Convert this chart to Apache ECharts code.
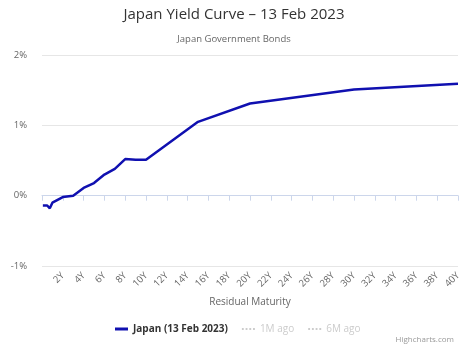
<!DOCTYPE html>
<html>
<head>
<meta charset="utf-8">
<script src="https://cdn.jsdelivr.net/npm/echarts@6/dist/echarts.min.js"></script>
<style>
  html, body { margin: 0; padding: 0; background: #fff; }
  #main { width: 468px; height: 351px; }
</style>
</head>
<body>
<div id="main"></div>
<script>
// residual maturity in years and yield in %
var maturities = [0.083, 0.25, 0.5, 0.75, 1, 2, 3, 4, 5, 6, 7, 8, 9, 10, 15, 20, 30, 40];
var yieldsNow = [-0.14, -0.16, -0.14, -0.18, -0.10, -0.02, 0.00, 0.11, 0.18, 0.30, 0.38, 0.52, 0.51, 0.51, 1.05, 1.31, 1.51, 1.59];
var seriesNames = ['Japan (13 Feb 2023)', '1M ago', '6M ago'];

var font = '"Open Sans", "DejaVu Sans", sans-serif';
var dots = 'path://M0,0h2v2h-2z M4,0h2v2h-2z M8,0h2v2h-2z M12,0h2v2h-2z';

var chart = echarts.init(document.getElementById('main'));
chart.setOption({
  animation: false,
  textStyle: { fontFamily: font },
  title: [
    {
      text: 'Japan Yield Curve – 13 Feb 2023',
      left: 'center',
      top: 2,
      textStyle: { fontSize: 15, fontWeight: 'normal', color: '#333', fontFamily: font }
    },
    {
      text: 'Japan Government Bonds',
      left: 'center',
      top: 29,
      textStyle: { fontSize: 9.5, fontWeight: 'normal', color: '#666', fontFamily: font }
    },
    {
      text: 'Highcharts.com',
      right: 9,
      bottom: 2,
      textStyle: { fontSize: 8, fontWeight: 'normal', color: '#999', fontFamily: font }
    }
  ],
  grid: { left: 42, right: 10, top: 55, bottom: 85 },
  legend: {
    left: 110,
    top: 319,
    itemGap: 14,
    itemWidth: 13,
    itemHeight: 3,
    itemTextGap: 4,
    inactiveColor: '#ccc',
    textStyle: { fontSize: 10, color: '#333', fontFamily: font },
    data: [
      { name: seriesNames[0], icon: 'rect', textStyle: { fontWeight: 'bold' } },
      { name: seriesNames[1], icon: dots },
      { name: seriesNames[2], icon: dots }
    ],
    selected: { '1M ago': false, '6M ago': false }
  },
  xAxis: {
    type: 'value',
    min: 0,
    max: 40,
    interval: 2,
    name: 'Residual Maturity',
    nameLocation: 'middle',
    nameGap: 31,
    nameTextStyle: { fontSize: 10, color: '#666' },
    axisLine: { lineStyle: { color: '#ccd6eb' } },
    axisTick: { show: true, length: 5, lineStyle: { color: '#ccd6eb' } },
    splitLine: { show: false },
    axisLabel: {
      rotate: 45,
      fontSize: 9.5,
      color: '#666',
      margin: 8,
      formatter: function (v) { return v === 0 ? '' : v + 'Y'; }
    }
  },
  yAxis: {
    type: 'value',
    min: -1,
    max: 2,
    interval: 1,
    axisLine: { show: false },
    axisTick: { show: false },
    splitLine: { lineStyle: { color: '#e6e6e6' } },
    axisLabel: { fontSize: 9.5, color: '#666', margin: 15, formatter: '{value}%' }
  },
  series: [
    {
      name: seriesNames[0],
      type: 'line',
      symbol: 'none',
      color: '#1010b0',
      lineStyle: { width: 2.5, color: '#1010b0' },
      data: maturities.map(function (m, i) { return [m, yieldsNow[i]]; })
    },
    {
      name: seriesNames[1],
      type: 'line',
      symbol: 'none',
      color: '#7cb5ec',
      lineStyle: { type: 'dotted' },
      data: []
    },
    {
      name: seriesNames[2],
      type: 'line',
      symbol: 'none',
      color: '#90ed7d',
      lineStyle: { type: 'dotted' },
      data: []
    }
  ]
});
</script>
</body>
</html>
